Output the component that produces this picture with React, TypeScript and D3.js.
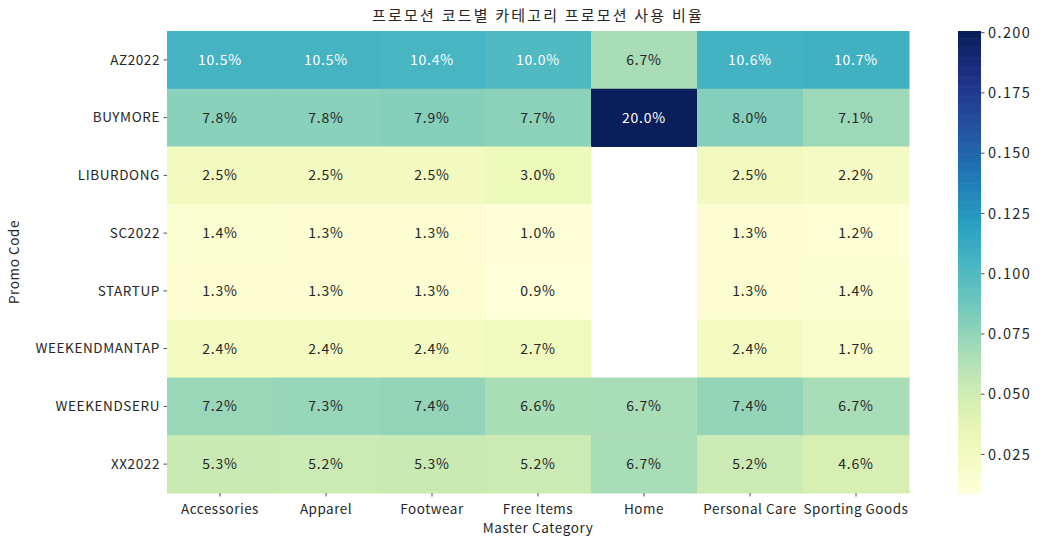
import React from 'react';
import * as d3 from 'd3';

const promoCodes = ['AZ2022', 'BUYMORE', 'LIBURDONG', 'SC2022', 'STARTUP', 'WEEKENDMANTAP', 'WEEKENDSERU', 'XX2022'];
const categories = ['Accessories', 'Apparel', 'Footwear', 'Free Items', 'Home', 'Personal Care', 'Sporting Goods'];

// usage ratio per promo code (rows) and category (columns); null = no data
const az2022 = [0.105, 0.105, 0.104, 0.100, 0.067, 0.106, 0.107];
const buymore = [0.078, 0.078, 0.079, 0.077, 0.200, 0.080, 0.071];
const liburdong = [0.025, 0.025, 0.025, 0.030, null, 0.025, 0.022];
const sc2022 = [0.014, 0.013, 0.013, 0.010, null, 0.013, 0.012];
const startup = [0.013, 0.013, 0.013, 0.009, null, 0.013, 0.014];
const weekendmantap = [0.024, 0.024, 0.024, 0.027, null, 0.024, 0.017];
const weekendseru = [0.072, 0.073, 0.074, 0.066, 0.067, 0.074, 0.067];
const xx2022 = [0.053, 0.052, 0.053, 0.052, 0.067, 0.052, 0.046];

const rows = [az2022, buymore, liburdong, sc2022, startup, weekendmantap, weekendseru, xx2022];
const colorTicks = [0.025, 0.05, 0.075, 0.1, 0.125, 0.15, 0.175, 0.2];

const FONT = '"Noto Sans CJK KR", "DejaVu Sans", sans-serif';

// seaborn-style text colour pick
const textColor = (c: string) => {
  const rgb = d3.rgb(c);
  const lin = (v: number) => {
    v = v / 255;
    return v <= 0.03928 ? v / 12.92 : Math.pow((v + 0.055) / 1.055, 2.4);
  };
  const lum = 0.2126 * lin(rgb.r) + 0.7152 * lin(rgb.g) + 0.0722 * lin(rgb.b);
  return lum > 0.408 ? '#262626' : '#ffffff';
};

const App = () => {
  const width = 1043;
  const height = 546;
  const margin = { top: 31, left: 167 };
  const innerWidth = 742;
  const innerHeight = 462;
  const vmin = 0.009;
  const vmax = 0.2007;

  const x = d3.scaleBand().domain(categories).range([0, innerWidth]);
  const y = d3.scaleBand().domain(promoCodes).range([0, innerHeight]);
  const color = d3.scaleSequential(d3.interpolateYlGnBu).domain([vmin, vmax]);

  // colorbar
  const cbX = 958;
  const cbW = 23;
  const cbScale = d3.scaleLinear().domain([vmin, vmax]).range([margin.top + innerHeight, margin.top]);
  const steps = d3.range(0, 256).map((i) => vmin + (i / 255) * (vmax - vmin));

  const cells = [];
  rows.forEach((vals, ri) => {
    vals.forEach((v, ci) => {
      if (v === null) return;
      cells.push({ row: promoCodes[ri], col: categories[ci], v });
    });
  });

  return (
    <svg width={width} height={height} style={{ display: 'block', position: 'absolute', left: 0, top: 0 }} fontFamily={FONT}>
      <rect width={width} height={height} fill="#fff" />
      <text x={margin.left + innerWidth / 2} y={21} textAnchor="middle" fontSize={15} letterSpacing={2.2} fill="#262626">
        프로모션 코드별 카테고리 프로모션 사용 비율
      </text>

      <g transform={`translate(${margin.left},${margin.top})`}>
        {cells.map((d) => {
          const fill = color(d.v);
          return (
            <g key={d.row + d.col}>
              <rect x={x(d.col)} y={y(d.row)} width={x.bandwidth() + 0.5} height={y.bandwidth() + 0.5} fill={fill} />
              <text
                x={x(d.col) + x.bandwidth() / 2}
                y={y(d.row) + y.bandwidth() / 2}
                dy="0.35em"
                textAnchor="middle"
                fontSize={14}
                letterSpacing={0.8}
                fill={textColor(fill)}
              >
                {(d.v * 100).toFixed(1)}%
              </text>
            </g>
          );
        })}

        {promoCodes.map((p) => (
          <g key={p} transform={`translate(0,${y(p) + y.bandwidth() / 2})`}>
            <line x1={-3.5} x2={0} stroke="#262626" strokeWidth={0.8} />
            <text x={-7} dy="0.35em" textAnchor="end" fontSize={13.5} letterSpacing={0.6} fill="#262626">{p}</text>
          </g>
        ))}

        {categories.map((c) => (
          <g key={c} transform={`translate(${x(c) + x.bandwidth() / 2},${innerHeight})`}>
            <line y1={0} y2={3.5} stroke="#262626" strokeWidth={0.8} />
            <text y={16} dy="0.35em" textAnchor="middle" fontSize={13.5} letterSpacing={0.5} fill="#262626">{c}</text>
          </g>
        ))}
      </g>

      <text x={margin.left + innerWidth / 2} y={533} textAnchor="middle" fontSize={13.5} letterSpacing={0.6} fill="#262626">Master Category</text>
      <text transform={`translate(19,${margin.top + innerHeight / 2}) rotate(-90)`} textAnchor="middle" fontSize={13.5} letterSpacing={0.6} fill="#262626">
        Promo Code
      </text>

      <g>
        {steps.map((s, i) => {
          const y0 = cbScale(s);
          const y1 = i < steps.length - 1 ? cbScale(steps[i + 1]) : margin.top;
          return <rect key={i} x={cbX} y={y1} width={cbW} height={y0 - y1 + 0.6} fill={color(s)} />;
        })}
        {colorTicks.map((t) => (
          <g key={t} transform={`translate(${cbX + cbW},${cbScale(t)})`}>
            <line x1={0} x2={3.5} stroke="#262626" strokeWidth={0.8} />
            <text x={7} dy="0.35em" fontSize={14.5} letterSpacing={1.4} fill="#262626">{d3.format('.3f')(t)}</text>
          </g>
        ))}
      </g>
    </svg>
  );
};

export default App;
